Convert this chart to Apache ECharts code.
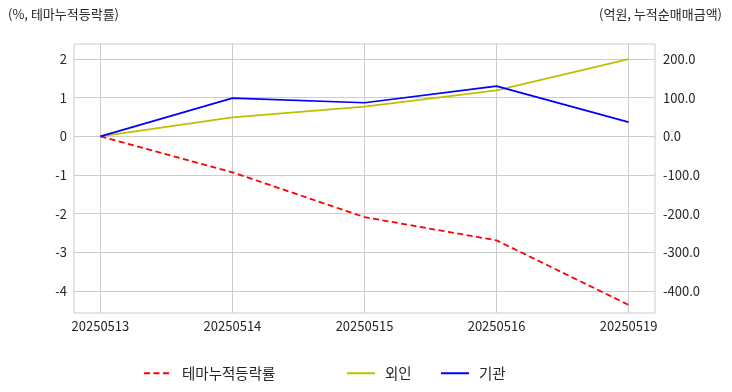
<!DOCTYPE html>
<html><head><meta charset="utf-8">
<script src="https://cdn.jsdelivr.net/npm/echarts@6/dist/echarts.min.js"></script>
<style>html,body{margin:0;padding:0;background:#fff}#c{width:732px;height:392px}</style>
</head><body><div id="c"></div>
<script>
const categories = ['20250513','20250514','20250515','20250516','20250519'];
const themeReturn = [0, -0.93, -2.09, -2.69, -4.36];
const foreign = [0, 49, 77, 119, 200];
const institution = [0, 99, 87, 130, 37];
const leftTicks = [-4, -3, -2, -1, 0, 1, 2];
const rightTicks = [-400, -300, -200, -100, 0, 100, 200];
const leftTitle = '(%, 테마누적등락률)';
const rightTitle = '(억원, 누적순매매금액)';
const seriesNames = ['테마누적등락률', '외인', '기관'];

const FONT = '"Noto Sans CJK KR", "Noto Sans", sans-serif';
const TXT = '#262626';
const GRID = '#cccccc';
const chart = echarts.init(document.getElementById('c'), null, {renderer:'canvas'});

const xIdx = categories.map((c,i)=>i);
function pts(arr){ return arr.map((v,i)=>[i,v]); }
function legendAt(left, name){
  return {data:[name], left:left, top:361, itemWidth:28, itemHeight:12,
    itemStyle:{opacity:0},
    textStyle:{fontFamily:FONT, fontSize:14.5, color:TXT, padding:[0,0,0,5]}};
}

chart.setOption({
  animation:false,
  backgroundColor:'#fff',
  graphic:[
    {type:'text', left:8, top:8, style:{text:leftTitle, font:'13px '+FONT, fill:TXT}},
    {type:'text', right:10, top:8, style:{text:rightTitle, font:'13px '+FONT, fill:TXT}}
  ],
  legend:[ legendAt(138, seriesNames[0]), legendAt(341, seriesNames[1]), legendAt(435, seriesNames[2]) ],
  grid:{left:74, right:77, top:44, bottom:79, show:true, borderColor:GRID, borderWidth:1, containLabel:false},
  xAxis:{type:'value', min:-0.2, max:4.2,
    axisLine:{show:false},
    axisTick:{show:false, customValues:xIdx},
    splitLine:{show:true, lineStyle:{color:GRID, width:1}},
    axisLabel:{margin:7, fontFamily:FONT, fontSize:13, color:TXT, customValues:xIdx,
      formatter:function(v){ const r=Math.round(v); return categories[r]!==undefined ? categories[r] : ''; }}
  },
  yAxis:[
    {type:'value', min:-4.57, max:2.39, position:'left',
      axisLine:{show:false},
      axisTick:{show:false, customValues:leftTicks},
      splitLine:{show:true, lineStyle:{color:GRID, width:1}},
      axisLabel:{margin:7, fontFamily:FONT, fontSize:13, color:TXT, customValues:leftTicks,
        formatter:function(v){ return String(Math.round(v)); }}
    },
    {type:'value', min:-457, max:239, position:'right',
      axisLine:{show:false},
      axisTick:{show:false, customValues:rightTicks}, splitLine:{show:false},
      axisLabel:{margin:8, fontFamily:FONT, fontSize:13, color:TXT, customValues:rightTicks,
        formatter:function(v){ return Math.round(v).toFixed(1); }}
    }
  ],
  series:[
    {name:seriesNames[0], type:'line', yAxisIndex:0, data:pts(themeReturn), showSymbol:false, symbol:'none',
      lineStyle:{color:'#ff0000', width:1.8, type:[6,3.5]}, itemStyle:{color:'#ff0000'}, z:3},
    {name:seriesNames[1], type:'line', yAxisIndex:1, data:pts(foreign), showSymbol:false, symbol:'none',
      lineStyle:{color:'#bfbf00', width:1.7}, itemStyle:{color:'#bfbf00'}, z:2},
    {name:seriesNames[2], type:'line', yAxisIndex:1, data:pts(institution), showSymbol:false, symbol:'none',
      lineStyle:{color:'#0000ff', width:1.7}, itemStyle:{color:'#0000ff'}, z:4}
  ]
});
</script></body></html>
